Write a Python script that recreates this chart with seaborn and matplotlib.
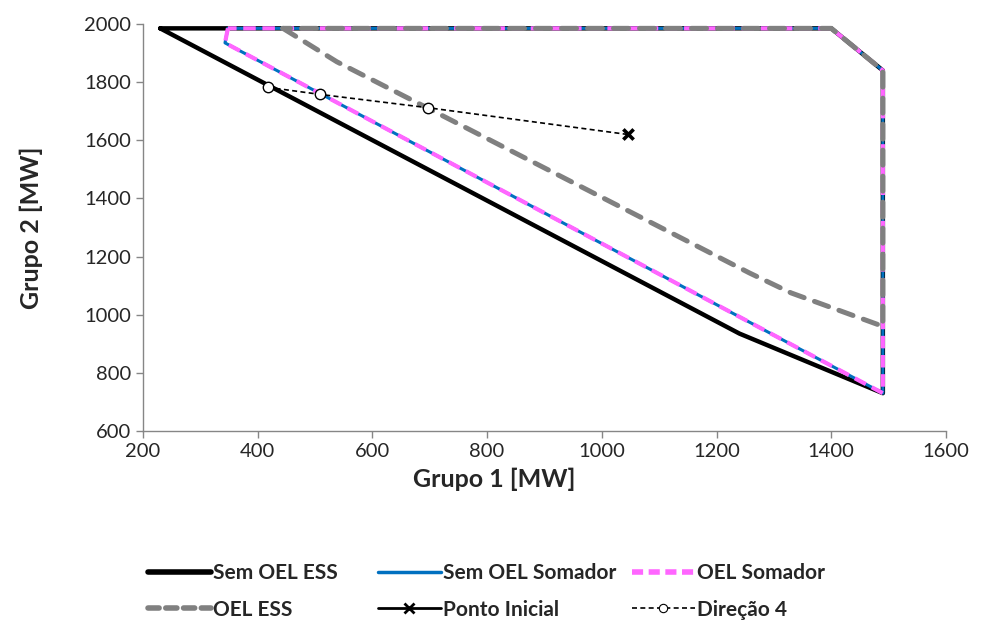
import numpy as np
import pandas as pd
import matplotlib
matplotlib.use("Agg")
import matplotlib.pyplot as plt
from matplotlib.lines import Line2D
import seaborn as sns

# data (Grupo 1 [MW], Grupo 2 [MW])
sem_oel_ess_x = [230, 1240, 1490, 1490, 1400, 230]
sem_oel_ess_y = [1985, 935, 730, 1840, 1985, 1985]

somador_x = [348, 343, 1490, 1490, 1400, 348]
somador_y = [1985, 1935, 730, 1840, 1985, 1985]

oel_ess_x = [444, 538, 697, 1258, 1330, 1490, 1490, 1400, 444]
oel_ess_y = [1985, 1870, 1710, 1143, 1075, 960, 1840, 1985, 1985]

ponto_x = [1045]
ponto_y = [1620]

direcao_x = [1045, 697, 508, 418]
direcao_y = [1620, 1712, 1758, 1782]

sns.set_style("white")
plt.rcParams['font.family'] = ['Lato', 'DejaVu Sans']

fig = plt.figure(figsize=(9.82, 6.28), dpi=100)
ax = fig.add_axes([0.1456, 0.3137, 0.8177, 0.6481])

def df(x, y):
    return pd.DataFrame({'x': x, 'y': y})

sns.lineplot(data=df(sem_oel_ess_x, sem_oel_ess_y), x='x', y='y', sort=False,
             estimator=None, color='black', lw=3.2, ax=ax,
             solid_joinstyle='round')
sns.lineplot(data=df(somador_x, somador_y), x='x', y='y', sort=False,
             estimator=None, color='#0070C0', lw=2.2, ax=ax)
sns.lineplot(data=df(somador_x, somador_y), x='x', y='y', sort=False,
             estimator=None, color='#FF66FF', lw=3, ax=ax,
             dashes=False, linestyle=(0, (3, 1.6)))
sns.lineplot(data=df(oel_ess_x, oel_ess_y), x='x', y='y', sort=False,
             estimator=None, color='#808080', lw=3.6, ax=ax,
             linestyle=(0, (3, 2.2)), dash_capstyle='round')
sns.lineplot(data=df(direcao_x, direcao_y), x='x', y='y', sort=False,
             estimator=None, color='black', lw=1.2, ax=ax,
             linestyle=(0, (3, 2)), marker='o', markersize=7.5,
             markerfacecolor='white', markeredgecolor='black',
             markeredgewidth=1.0, markevery=[1, 2, 3])
sns.scatterplot(data=df(ponto_x, ponto_y), x='x', y='y', color='black',
                marker='x', s=55, linewidth=2.6, ax=ax, zorder=5)

ax.set_xlim(200, 1600)
ax.set_ylim(600, 2000)
ax.set_xticks(np.arange(200, 1601, 200))
ax.set_yticks(np.arange(600, 2001, 200))
ax.tick_params(axis='both', labelsize=14.5, direction='out', length=5,
               width=1, color='#868686', left=True, bottom=True)
for side in ['top', 'right']:
    ax.spines[side].set_visible(False)
for side in ['left', 'bottom']:
    ax.spines[side].set_color('#868686')
    ax.spines[side].set_linewidth(1)
ax.set_xlabel('Grupo 1 [MW]', fontsize=18, fontweight='bold', labelpad=6, x=0.437)
ax.set_ylabel('Grupo 2 [MW]', fontsize=18, fontweight='bold', labelpad=30)

# legend: three columns placed like the reference, two rows each
columns = [
    ([Line2D([], [], color='black', lw=4),
      Line2D([], [], color='#808080', lw=4, linestyle=(0, (2, 1.2)),
             dash_capstyle='round')],
     ['Sem OEL ESS', 'OEL ESS'], 148),
    ([Line2D([], [], color='#0070C0', lw=2.5),
      Line2D([], [], color='black', lw=2, marker='x', markersize=7,
             markeredgewidth=2)],
     ['Sem OEL Somador', 'Ponto Inicial'], 378),
    ([Line2D([], [], color='#FF66FF', lw=4, linestyle=(0, (2, 1))),
      Line2D([], [], color='black', lw=1.2, linestyle=(0, (3, 2)), marker='o',
             markersize=6, markerfacecolor='white', markeredgewidth=0.8)],
     ['OEL Somador', 'Direção 4'], 632),
]
for hs, ls, xpix in columns:
    fig.legend(hs, ls, loc='upper left', bbox_to_anchor=(xpix / 982, 1 - 563 / 628),
               frameon=False, prop={'weight': 'bold', 'size': 15},
               handlelength=3.0, handletextpad=0.1, labelspacing=0.8,
               borderpad=0, borderaxespad=0)

fig.savefig('out.png', dpi=100)
